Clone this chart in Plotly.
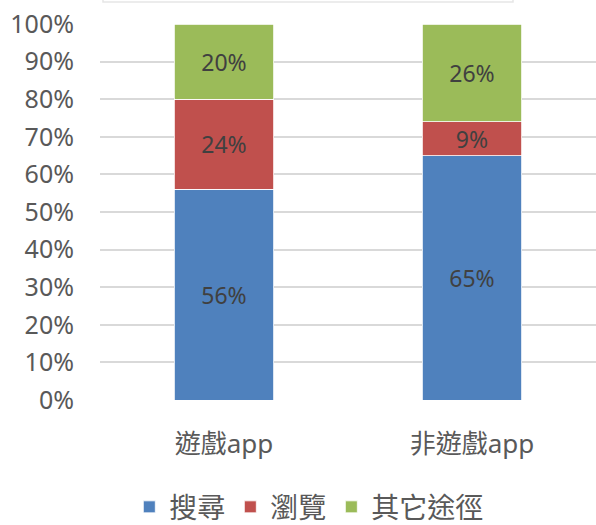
import plotly.graph_objects as go

categories = ["遊戲app", "非遊戲app"]
series_names = ["搜尋", "瀏覽", "其它途徑"]
search_vals = [0.56, 0.65]
browse_vals = [0.24, 0.09]
other_vals = [0.20, 0.26]
colors = ["#4F81BD", "#C0504D", "#9BBB59"]
y_ticks = [i / 10 for i in range(11)]

FONT = "Noto Sans, Noto Sans CJK TC, sans-serif"

fig = go.Figure()
for name, vals, col in zip(series_names, [search_vals, browse_vals, other_vals], colors):
    fig.add_trace(go.Bar(
        x=categories, y=vals, name=name,
        marker=dict(color=col, line=dict(color="white", width=0.8)),
        text=[f"{round(v*100)}%" for v in vals],
        textposition="inside", insidetextanchor="middle",
        textangle=0, constraintext="none",
        textfont=dict(family=FONT, size=23, color="#404040"),
        hoverinfo="skip",
    ))

fig.update_layout(
    barmode="stack",
    bargap=0.6,
    width=596, height=525,
    margin=dict(l=100, r=0, t=24, b=125),
    paper_bgcolor="white", plot_bgcolor="white",
    font=dict(family=FONT, color="#595959", size=24),
    showlegend=True,
    legend=dict(
        orientation="h", x=0.422, xanchor="center",
        yref="container", y=0.034, yanchor="middle",
        font=dict(family=FONT, size=28, color="#595959"),
        traceorder="normal", itemwidth=30,
    ),
)
fig.update_yaxes(
    range=[0, 1], tickvals=y_ticks, tickformat=".0%",
    showgrid=True, gridcolor="#D9D9D9", gridwidth=1.5,
    zeroline=False, showline=False,
    ticklabelstandoff=25,
    tickfont=dict(family=FONT, size=25, color="#595959"),
)
fig.update_xaxes(
    showgrid=False, showline=False, zeroline=False,
    ticklabelstandoff=26,
    tickfont=dict(family=FONT, size=26, color="#595959"),
)
fig.add_shape(type="rect", xref="paper", yref="paper",
              x0=(103-100)/496, x1=(513-100)/496, y0=(400-2)/376, y1=1.2,
              line=dict(color="#E6E6E6", width=1.5), fillcolor="rgba(0,0,0,0)", layer="below")

fig.write_html("out.html", config={"displayModeBar": False},
               post_script="document.body.style.margin='0';")
